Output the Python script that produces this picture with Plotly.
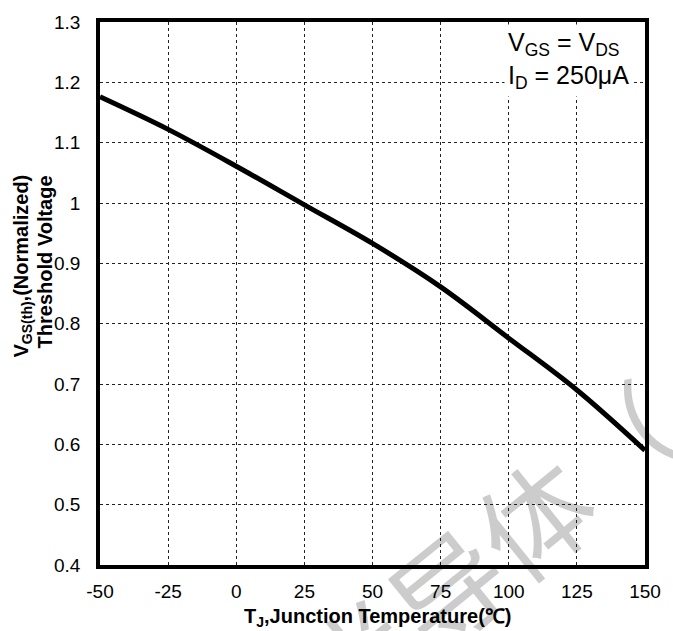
import plotly.graph_objects as go

temps = [-50, -25, 0, 25, 50, 75, 100, 125, 150]
vth_norm = [1.176, 1.122, 1.061, 0.997, 0.933, 0.861, 0.776, 0.69, 0.59]

x_ticks = [-50, -25, 0, 25, 50, 75, 100, 125, 150]
x_tick_text = ["-50", "-25", "0", "25", "50", "75", "100", "125", "150"]
y_ticks = [0.4, 0.5, 0.6, 0.7, 0.8, 0.9, 1.0, 1.1, 1.2, 1.3]
y_tick_text = ["0.4", "0.5", "0.6", "0.7", "0.8", "0.9", "1", "1.1", "1.2", "1.3"]

FONT = "Liberation Sans, Arial, sans-serif"

fig = go.Figure()
fig.add_trace(go.Scatter(x=temps, y=vth_norm, mode="lines",
                         line=dict(color="black", width=5, shape="spline", smoothing=1.0),
                         hoverinfo="skip", showlegend=False))

fig.update_layout(
    width=673, height=631,
    margin=dict(l=100, r=18, t=16, b=66),
    paper_bgcolor="white", plot_bgcolor="white",
    font=dict(family=FONT, size=19, color="black"),
    showlegend=False,
)
fig.update_xaxes(range=[-50, 150], tickvals=x_ticks, ticktext=x_tick_text, ticks="",
                 ticklabelstandoff=6,
                 showgrid=True, gridcolor="#222", gridwidth=1, griddash="dot",
                 zeroline=False, showline=True, linecolor="black", linewidth=3.5, mirror=True)
fig.update_yaxes(range=[0.4, 1.3], tickvals=y_ticks, ticktext=y_tick_text, ticks="",
                 ticklabelstandoff=12,
                 showgrid=True, gridcolor="#222", gridwidth=1, griddash="dot",
                 zeroline=False, showline=True, linecolor="black", linewidth=3.5, mirror=True)

# axis titles
fig.add_annotation(xref="paper", yref="paper", x=0.51, y=-0.097, xanchor="center", yanchor="middle",
                   text="<b>T<sub>J</sub>,Junction Temperature(℃)</b>", showarrow=False,
                   font=dict(size=20, family=FONT, color="black"))
fig.add_annotation(xref="paper", yref="paper", x=-0.143, y=0.722, xanchor="center", yanchor="top",
                   text="<b>V<sub>GS(th)</sub>,(Normalized)</b>", showarrow=False, textangle=-90,
                   font=dict(size=20, family=FONT, color="black"))
fig.add_annotation(xref="paper", yref="paper", x=-0.101, y=0.722, xanchor="center", yanchor="top",
                   text="<b>Threshold Voltage</b>", showarrow=False, textangle=-90,
                   font=dict(size=20, family=FONT, color="black"))

# condition box
fig.add_annotation(xref="paper", yref="paper", x=0.978, y=0.996, xanchor="right", yanchor="top",
                   text="V<sub>GS</sub> = V<sub>DS</sub><br>I<sub>D</sub> = 250μA",
                   showarrow=False, align="left", bgcolor="white", borderpad=3,
                   font=dict(size=25, family=FONT, color="black"))

# watermark
fig.add_annotation(xref="paper", yref="paper", x=0.7135, y=0.027, xanchor="center", yanchor="middle",
                   text="半导体（", showarrow=False, textangle=-39,
                   font=dict(size=112, family="Noto Sans CJK SC", weight=400,
                             color="rgba(0,0,0,0.2)"))

fig.write_html("out.html")
